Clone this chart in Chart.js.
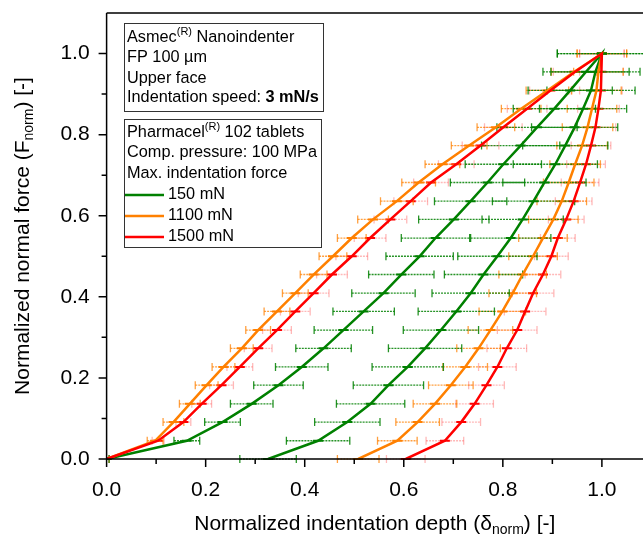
<!DOCTYPE html>
<html>
<head>
<meta charset="utf-8">
<script src="https://cdn.jsdelivr.net/npm/chart.js@4.4.1/dist/chart.umd.min.js"></script>
<style>
  html, body { margin: 0; padding: 0; background: #fff; overflow: hidden; }
  canvas { display: block; }
</style>
</head>
<body>
<canvas id="chart" width="643" height="541"></canvas>
<script>
// normalized force levels (rows of the measurement)
const force = [0, 0.045, 0.091, 0.136, 0.182, 0.227, 0.273, 0.318, 0.364, 0.409, 0.455, 0.5,
  0.545, 0.591, 0.636, 0.682, 0.727, 0.773, 0.818, 0.864, 0.909, 0.955, 1.0];

const seriesNames = ['150 mN', '1100 mN', '1500 mN'];
const seriesColors = ['#008000', '#ff8000', '#ff0000'];

// loading branch depth, per force row
const load150 = [0, 0.162, 0.234, 0.293, 0.347, 0.394, 0.438, 0.478, 0.519, 0.559, 0.595, 0.632,
  0.664, 0.701, 0.735, 0.769, 0.801, 0.836, 0.869, 0.904, 0.936, 0.968, 1.0];
const load1100 = [0, 0.098, 0.135, 0.168, 0.202, 0.236, 0.273, 0.306, 0.344, 0.381, 0.418, 0.457,
  0.495, 0.538, 0.586, 0.630, 0.678, 0.732, 0.786, 0.837, 0.890, 0.944, 1.0];
const load1500 = [0, 0.104, 0.155, 0.192, 0.232, 0.269, 0.306, 0.344, 0.381, 0.418, 0.455, 0.495,
  0.532, 0.573, 0.614, 0.655, 0.706, 0.755, 0.801, 0.849, 0.896, 0.946, 1.0];

// unloading branch depth, per force row (same order as force)
const unload150 = [0.326, 0.427, 0.486, 0.533, 0.569, 0.608, 0.643, 0.675, 0.706, 0.735, 0.761, 0.789,
  0.816, 0.840, 0.862, 0.884, 0.906, 0.926, 0.945, 0.962, 0.978, 0.987, 1.0];
const unload1100 = [0.508, 0.587, 0.628, 0.663, 0.695, 0.724, 0.751, 0.775, 0.799, 0.820, 0.840, 0.861,
  0.881, 0.902, 0.919, 0.933, 0.946, 0.960, 0.971, 0.980, 0.989, 0.993, 1.0];
const unload1500 = [0.604, 0.683, 0.716, 0.743, 0.767, 0.789, 0.808, 0.829, 0.845, 0.861, 0.881, 0.898,
  0.911, 0.928, 0.943, 0.956, 0.968, 0.978, 0.987, 0.993, 0.998, 0.999, 1.0];

// horizontal error (half width) of the depth
const loadErr150 = [0.005, 0.026, 0.036, 0.043, 0.050, 0.053, 0.056, 0.059, 0.062, 0.064, 0.066, 0.068,
  0.069, 0.071, 0.073, 0.075, 0.077, 0.079, 0.081, 0.083, 0.085, 0.087, 0.090];
const loadErr1100 = [0.005, 0.016, 0.021, 0.021, 0.023, 0.023, 0.023, 0.025, 0.026, 0.026, 0.027, 0.028,
  0.029, 0.031, 0.033, 0.034, 0.035, 0.036, 0.038, 0.040, 0.043, 0.046, 0.050];
const loadErr1500 = [0.005, 0.012, 0.015, 0.020, 0.024, 0.026, 0.028, 0.029, 0.030, 0.031, 0.031, 0.032,
  0.032, 0.033, 0.034, 0.035, 0.036, 0.037, 0.038, 0.040, 0.042, 0.044, 0.045];
const unloadErr150 = [0.057, 0.064, 0.066, 0.069, 0.071, 0.072, 0.074, 0.076, 0.077, 0.078, 0.079, 0.080,
  0.081, 0.082, 0.083, 0.084, 0.085, 0.086, 0.087, 0.088, 0.089, 0.090, 0.090];
const unloadErr1100 = [0.042, 0.040, 0.044, 0.044, 0.045, 0.045, 0.044, 0.045, 0.047, 0.048, 0.048, 0.049,
  0.049, 0.050, 0.050, 0.051, 0.051, 0.051, 0.051, 0.050, 0.050, 0.050, 0.050];
const unloadErr1500 = [0.039, 0.038, 0.039, 0.038, 0.036, 0.038, 0.040, 0.040, 0.042, 0.042, 0.036, 0.034,
  0.035, 0.036, 0.037, 0.038, 0.039, 0.040, 0.041, 0.042, 0.043, 0.044, 0.045];

const xTicks = [0, 0.2, 0.4, 0.6, 0.8, 1.0];
const xMinor = [0.1, 0.3, 0.5, 0.7, 0.9];
const yTicks = [0, 0.2, 0.4, 0.6, 0.8, 1.0];
const yMinor = [0.1, 0.3, 0.5, 0.7, 0.9];

const FONT = '"Liberation Sans", Arial, sans-serif';

const series = [
  { load: load150, unload: unload150, loadErr: loadErr150, unloadErr: unloadErr150, bar: 'rgba(0,128,0,0.85)' },
  { load: load1100, unload: unload1100, loadErr: loadErr1100, unloadErr: unloadErr1100, bar: 'rgba(255,128,0,0.75)' },
  { load: load1500, unload: unload1500, loadErr: loadErr1500, unloadErr: unloadErr1500, bar: 'rgba(255,0,0,0.28)' }
];

// loading up to the peak, then back down the unloading branch
function curve(s) {
  const pts = s.load.map((d, i) => ({ x: d, y: force[i] }));
  for (let i = force.length - 2; i >= 0; i--) pts.push({ x: s.unload[i], y: force[i] });
  return pts;
}

const errorBars = {
  id: 'errorBars',
  beforeDatasetsDraw(chart) {
    const { ctx, chartArea: a, scales: { x, y } } = chart;
    ctx.save();
    ctx.beginPath();
    ctx.rect(a.left, a.top, a.right - a.left, a.bottom - a.top + 6);
    ctx.clip();
    [2, 1, 0].forEach(si => {
      const s = series[si];
      [[s.load, s.loadErr], [s.unload, s.unloadErr]].forEach(([dep, err]) => {
        force.forEach((f, i) => {
          const py = y.getPixelForValue(f);
          const x0 = x.getPixelForValue(dep[i] - err[i]);
          const x1 = x.getPixelForValue(dep[i] + err[i]);
          ctx.strokeStyle = s.bar;
          ctx.lineWidth = 1.3;
          ctx.setLineDash([2, 1]);
          ctx.beginPath();
          ctx.moveTo(x0, py);
          ctx.lineTo(x1, py);
          ctx.stroke();
          ctx.setLineDash([]);
          ctx.beginPath();
          ctx.moveTo(x0, py - 4); ctx.lineTo(x0, py + 4);
          ctx.moveTo(x1, py - 4); ctx.lineTo(x1, py + 4);
          ctx.stroke();
          // point mark
          const px = x.getPixelForValue(dep[i]);
          ctx.strokeStyle = seriesColors[si];
          ctx.lineWidth = 2;
          ctx.beginPath();
          ctx.moveTo(px - 5, py);
          ctx.lineTo(px + 5, py);
          ctx.stroke();
        });
      });
    });
    ctx.restore();
  }
};

function drawRich(ctx, parts, x, y) {
  // parts: [text, kind, size] with kind '', 'sup', 'sub', 'bold'
  parts.forEach(([t, kind, size]) => {
    let dy = 0;
    if (kind === 'sup') { ctx.font = `${size}px ${FONT}`; dy = -6; }
    else if (kind === 'sub') { ctx.font = `${size}px ${FONT}`; dy = 6; }
    else if (kind === 'bold') ctx.font = `bold ${size}px ${FONT}`;
    else ctx.font = `${size}px ${FONT}`;
    ctx.fillText(t, x, y + dy);
    x += ctx.measureText(t).width;
  });
  return x;
}

function richWidth(ctx, parts) {
  let w = 0;
  parts.forEach(([t, kind, size]) => {
    ctx.font = (kind === 'bold' ? 'bold ' : '') + `${size}px ${FONT}`;
    w += ctx.measureText(t).width;
  });
  return w;
}

const frame = {
  id: 'frame',
  afterDraw(chart) {
    const { ctx, chartArea: a, scales: { x, y } } = chart;
    ctx.save();
    ctx.strokeStyle = '#000';
    ctx.lineWidth = 1.5;
    ctx.beginPath();
    ctx.moveTo(a.left, a.top); ctx.lineTo(a.right, a.top);
    ctx.moveTo(a.left, a.top); ctx.lineTo(a.left, a.bottom); ctx.lineTo(a.right, a.bottom);
    yTicks.forEach(v => { const p = y.getPixelForValue(v); ctx.moveTo(a.left, p); ctx.lineTo(a.left - 8, p); });
    yMinor.forEach(v => { const p = y.getPixelForValue(v); ctx.moveTo(a.left, p); ctx.lineTo(a.left - 5, p); });
    xTicks.forEach(v => { const p = x.getPixelForValue(v); ctx.moveTo(p, a.bottom); ctx.lineTo(p, a.bottom + 8); });
    xMinor.forEach(v => { const p = x.getPixelForValue(v); ctx.moveTo(p, a.bottom); ctx.lineTo(p, a.bottom + 5); });
    ctx.stroke();

    // axis titles with subscripts
    ctx.fillStyle = '#000';
    ctx.textBaseline = 'middle';
    ctx.textAlign = 'left';
    const xt = [['Normalized indentation depth (', '', 21], ['\u03B4', '', 21], ['norm', 'sub', 14], [') [-]', '', 21]];
    const wx = richWidth(ctx, xt);
    drawRich(ctx, xt, (a.left + a.right) / 2 - wx / 2, 524);
    const yt = [['Normalized normal force (F', '', 21], ['norm', 'sub', 14], [') [-]', '', 21]];
    const wy = richWidth(ctx, yt);
    ctx.save();
    ctx.translate(23, (a.top + a.bottom) / 2);
    ctx.rotate(-Math.PI / 2);
    drawRich(ctx, yt, -wy / 2, 0);
    ctx.restore();

    // info boxes
    ctx.lineWidth = 1;
    ctx.strokeStyle = '#333';
    ctx.fillStyle = '#fff';
    ctx.fillRect(124, 23, 199, 88);
    ctx.strokeRect(124.5, 23.5, 199, 88);
    ctx.fillRect(124, 119, 197, 128);
    ctx.strokeRect(124.5, 119.5, 197, 128);
    ctx.fillStyle = '#000';
    const tx = 127;
    drawRich(ctx, [['Asmec', '', 16.3], ['(R)', 'sup', 11], [' Nanoindenter', '', 16.3]], tx, 38);
    drawRich(ctx, [['FP 100 \u00B5m', '', 16.3]], tx, 58);
    drawRich(ctx, [['Upper face', '', 16.3]], tx, 78.5);
    drawRich(ctx, [['Indentation speed: ', '', 16.3], ['3 mN/s', 'bold', 16.3]], tx, 98);
    drawRich(ctx, [['Pharmacel', '', 16.3], ['(R)', 'sup', 11], [' 102 tablets', '', 16.3]], tx, 132.5);
    drawRich(ctx, [['Comp. pressure: 100 MPa', '', 16.3]], tx, 153);
    drawRich(ctx, [['Max. indentation force', '', 16.3]], tx, 174);
    seriesNames.forEach((n, i) => {
      const ly = 195 + i * 21;
      ctx.strokeStyle = seriesColors[i];
      ctx.lineWidth = 2.5;
      ctx.beginPath();
      ctx.moveTo(125, ly); ctx.lineTo(164, ly);
      ctx.stroke();
      drawRich(ctx, [[n, '', 16.3]], 168, ly);
    });
    ctx.restore();
  }
};

new Chart(document.getElementById('chart').getContext('2d'), {
  type: 'scatter',
  data: {
    datasets: series.map((s, i) => ({
      label: seriesNames[i],
      data: curve(s),
      showLine: true,
      borderColor: seriesColors[i],
      backgroundColor: seriesColors[i],
      borderWidth: 2.5,
      pointRadius: 0,
      tension: 0,
      order: 2 - i
    }))
  },
  options: {
    responsive: false,
    animation: false,
    devicePixelRatio: 1,
    layout: { padding: { top: 13, left: 0, right: 0, bottom: 0 } },
    plugins: { legend: { display: false }, tooltip: { enabled: false } },
    scales: {
      x: {
        type: 'linear', min: 0, max: 1.083,
        afterBuildTicks: s => { s.ticks = xTicks.map(v => ({ value: v })); },
        afterFit: s => { s.height = 82; s.paddingLeft = 0; s.paddingRight = 0; },
        grid: { display: false, drawTicks: true, tickLength: 8 },
        border: { display: false },
        ticks: { color: '#000', font: { family: FONT, size: 21 }, padding: 11, maxRotation: 0,
          callback: v => v.toFixed(1) }
      },
      y: {
        type: 'linear', min: 0, max: 1.1,
        afterBuildTicks: s => { s.ticks = yTicks.map(v => ({ value: v })); },
        afterFit: s => { s.width = 106.6; s.paddingTop = 0; s.paddingBottom = 0; },
        grid: { display: false, drawTicks: true, tickLength: 8 },
        border: { display: false },
        ticks: { color: '#000', font: { family: FONT, size: 21 }, padding: 9,
          callback: v => v.toFixed(1) }
      }
    }
  },
  plugins: [errorBars, frame]
});
</script>
</body>
</html>
